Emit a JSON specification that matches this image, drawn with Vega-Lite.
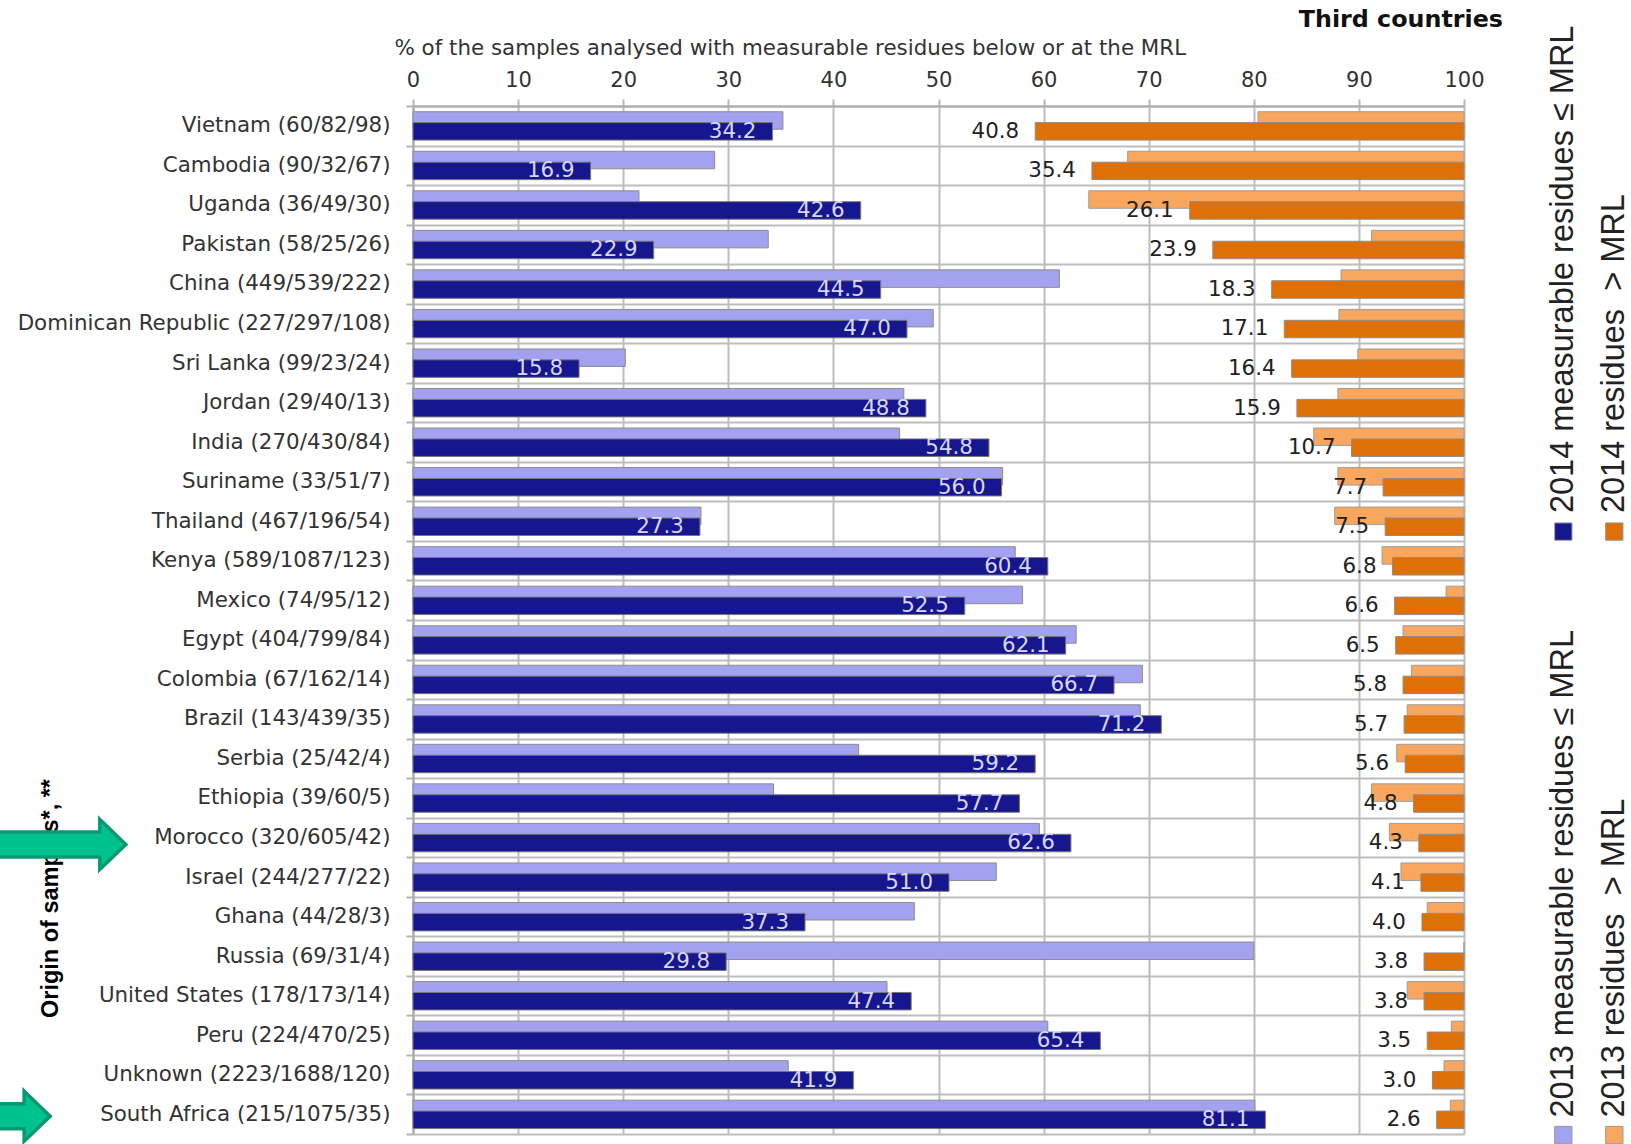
{"$schema":"https://vega.github.io/schema/vega-lite/v6.json","autosize":{"type":"none"},"padding":{"left":413,"top":106,"right":167,"bottom":10},"width":1051,"height":1028,"background":"white",
"config":{"view":{"stroke":null},"font":"DejaVu Sans"},
"title":{"text":"Third countries","anchor":"end","frame":"group","font":"DejaVu Sans","fontWeight":"bold","fontSize":23.8,"color":"#111","dx":39,"offset":-6},
"datasets":{"bars":[
{"country":"Vietnam (60/82/98)","year":2013,"below":35.2,"start":80.4,"above":19.6},{"country":"Vietnam (60/82/98)","year":2014,"below":34.2,"start":59.2,"above":40.8},
{"country":"Cambodia (90/32/67)","year":2013,"below":28.7,"start":68.0,"above":32.0},{"country":"Cambodia (90/32/67)","year":2014,"below":16.9,"start":64.6,"above":35.4},
{"country":"Uganda (36/49/30)","year":2013,"below":21.5,"start":64.3,"above":35.7},{"country":"Uganda (36/49/30)","year":2014,"below":42.6,"start":73.9,"above":26.1},
{"country":"Pakistan (58/25/26)","year":2013,"below":33.8,"start":91.2,"above":8.8},{"country":"Pakistan (58/25/26)","year":2014,"below":22.9,"start":76.1,"above":23.9},
{"country":"China (449/539/222)","year":2013,"below":61.5,"start":88.3,"above":11.7},{"country":"China (449/539/222)","year":2014,"below":44.5,"start":81.7,"above":18.3},
{"country":"Dominican Republic (227/297/108)","year":2013,"below":49.5,"start":88.1,"above":11.9},{"country":"Dominican Republic (227/297/108)","year":2014,"below":47.0,"start":82.9,"above":17.1},
{"country":"Sri Lanka (99/23/24)","year":2013,"below":20.2,"start":89.9,"above":10.1},{"country":"Sri Lanka (99/23/24)","year":2014,"below":15.8,"start":83.6,"above":16.4},
{"country":"Jordan (29/40/13)","year":2013,"below":46.7,"start":88.0,"above":12.0},{"country":"Jordan (29/40/13)","year":2014,"below":48.8,"start":84.1,"above":15.9},
{"country":"India (270/430/84)","year":2013,"below":46.3,"start":85.7,"above":14.3},{"country":"India (270/430/84)","year":2014,"below":54.8,"start":89.3,"above":10.7},
{"country":"Suriname (33/51/7)","year":2013,"below":56.1,"start":88.0,"above":12.0},{"country":"Suriname (33/51/7)","year":2014,"below":56.0,"start":92.3,"above":7.7},
{"country":"Thailand (467/196/54)","year":2013,"below":27.4,"start":87.7,"above":12.3},{"country":"Thailand (467/196/54)","year":2014,"below":27.3,"start":92.5,"above":7.5},
{"country":"Kenya (589/1087/123)","year":2013,"below":57.3,"start":92.2,"above":7.8},{"country":"Kenya (589/1087/123)","year":2014,"below":60.4,"start":93.2,"above":6.8},
{"country":"Mexico (74/95/12)","year":2013,"below":58.0,"start":98.3,"above":1.7},{"country":"Mexico (74/95/12)","year":2014,"below":52.5,"start":93.4,"above":6.6},
{"country":"Egypt (404/799/84)","year":2013,"below":63.1,"start":94.2,"above":5.8},{"country":"Egypt (404/799/84)","year":2014,"below":62.1,"start":93.5,"above":6.5},
{"country":"Colombia (67/162/14)","year":2013,"below":69.4,"start":95.0,"above":5.0},{"country":"Colombia (67/162/14)","year":2014,"below":66.7,"start":94.2,"above":5.8},
{"country":"Brazil (143/439/35)","year":2013,"below":69.2,"start":94.6,"above":5.4},{"country":"Brazil (143/439/35)","year":2014,"below":71.2,"start":94.3,"above":5.7},
{"country":"Serbia (25/42/4)","year":2013,"below":42.4,"start":93.6,"above":6.4},{"country":"Serbia (25/42/4)","year":2014,"below":59.2,"start":94.4,"above":5.6},
{"country":"Ethiopia (39/60/5)","year":2013,"below":34.3,"start":91.2,"above":8.8},{"country":"Ethiopia (39/60/5)","year":2014,"below":57.7,"start":95.2,"above":4.8},
{"country":"Morocco (320/605/42)","year":2013,"below":59.6,"start":92.9,"above":7.1},{"country":"Morocco (320/605/42)","year":2014,"below":62.6,"start":95.7,"above":4.3},
{"country":"Israel (244/277/22)","year":2013,"below":55.5,"start":94.0,"above":6.0},{"country":"Israel (244/277/22)","year":2014,"below":51.0,"start":95.9,"above":4.1},
{"country":"Ghana (44/28/3)","year":2013,"below":47.7,"start":96.5,"above":3.5},{"country":"Ghana (44/28/3)","year":2014,"below":37.3,"start":96.0,"above":4.0},
{"country":"Russia (69/31/4)","year":2013,"below":80.0,"start":100,"above":0},{"country":"Russia (69/31/4)","year":2014,"below":29.8,"start":96.2,"above":3.8},
{"country":"United States (178/173/14)","year":2013,"below":45.1,"start":94.6,"above":5.4},{"country":"United States (178/173/14)","year":2014,"below":47.4,"start":96.2,"above":3.8},
{"country":"Peru (224/470/25)","year":2013,"below":60.4,"start":98.8,"above":1.2},{"country":"Peru (224/470/25)","year":2014,"below":65.4,"start":96.5,"above":3.5},
{"country":"Unknown (2223/1688/120)","year":2013,"below":35.7,"start":98.1,"above":1.9},{"country":"Unknown (2223/1688/120)","year":2014,"below":41.9,"start":97.0,"above":3.0},
{"country":"South Africa (215/1075/35)","year":2013,"below":80.1,"start":98.7,"above":1.3},{"country":"South Africa (215/1075/35)","year":2014,"below":81.1,"start":97.4,"above":2.6}
],
"legend":[
{"label":"2014 measurable residues ≤ MRL","lx":109.45,"ty":0.604,"sy":0.586},
{"label":"2014 residues \u00a0> MRL","lx":114.3,"ty":0.604,"sy":0.586},
{"label":"2013 measurable residues ≤ MRL","lx":109.45,"ty":0.016,"sy":-0.001},
{"label":"2013 residues \u00a0> MRL","lx":114.3,"ty":0.016,"sy":-0.001}
]},
"layer":[
{"data":{"name":"bars"},
"encoding":{"y":{"field":"country","type":"nominal","scale":{"domain":["Vietnam (60/82/98)","Cambodia (90/32/67)","Uganda (36/49/30)","Pakistan (58/25/26)","China (449/539/222)","Dominican Republic (227/297/108)","Sri Lanka (99/23/24)","Jordan (29/40/13)","India (270/430/84)","Suriname (33/51/7)","Thailand (467/196/54)","Kenya (589/1087/123)","Mexico (74/95/12)","Egypt (404/799/84)","Colombia (67/162/14)","Brazil (143/439/35)","Serbia (25/42/4)","Ethiopia (39/60/5)","Morocco (320/605/42)","Israel (244/277/22)","Ghana (44/28/3)","Russia (69/31/4)","United States (178/173/14)","Peru (224/470/25)","Unknown (2223/1688/120)","South Africa (215/1075/35)"],"paddingInner":0,"paddingOuter":0},
"axis":{"title":"Origin of samples*, **","titleFont":"Liberation Sans","titleFontWeight":"bold","titleFontSize":23.5,"titleColor":"#000","titleX":-363,"titleY":792,"titleAngle":270,"titleAlign":"center","titleBaseline":"middle","labelFont":"DejaVu Sans","labelFontSize":21.4,"labelColor":"#333","labelPadding":16,"labelLimit":420,"grid":true,"gridColor":"#bdbdbd","gridWidth":2,"bandPosition":0,"tickBand":"extent","tickColor":"#b5b5b5","tickWidth":2,"tickSize":7,"domainColor":"#aaa","domainWidth":2}}},
"layer":[
{"transform":[{"filter":"datum.year===2013"}],"mark":{"type":"bar","size":17.5,"yOffset":-5.3,"color":"#a2a2f0","stroke":"#8d8d8d","strokeWidth":1},
"encoding":{"x":{"field":"below","type":"quantitative","scale":{"domain":[0,100],"nice":false},"axis":{"orient":"top","values":[0,10,20,30,40,50,60,70,80,90,100],"labelFlush":false,"title":"% of the samples analysed with measurable residues below or at the MRL","titleFont":"DejaVu Sans","titleFontWeight":"normal","titleFontSize":21.4,"titleColor":"#333","titleX":-19,"titleY":-58,"titleAlign":"left","titleBaseline":"middle","labelFont":"DejaVu Sans","labelFontSize":21,"labelColor":"#333","labelPadding":9,"grid":true,"gridColor":"#bdbdbd","gridWidth":2,"tickColor":"#b5b5b5","tickWidth":2,"tickSize":7,"domainColor":"#aaa","domainWidth":2}}}},
{"transform":[{"filter":"datum.year===2013"}],"mark":{"type":"bar","size":17.5,"yOffset":-5.3,"color":"#f9a75e","stroke":"#9d9d9d","strokeWidth":1},
"encoding":{"x":{"field":"start","type":"quantitative"},"x2":{"datum":100}}},
{"transform":[{"filter":"datum.year===2014"}],"mark":{"type":"bar","size":17.5,"yOffset":5.6,"color":"#16168f","stroke":"#777","strokeWidth":1},
"encoding":{"x":{"field":"below","type":"quantitative"}}},
{"transform":[{"filter":"datum.year===2014"}],"mark":{"type":"bar","size":17.5,"yOffset":5.6,"color":"#de7007","stroke":"#8d8d8d","strokeWidth":1},
"encoding":{"x":{"field":"start","type":"quantitative"},"x2":{"datum":100}}},
{"transform":[{"filter":"datum.year===2014"}],"mark":{"type":"text","align":"right","baseline":"middle","dx":-16,"yOffset":6,"fontSize":21.4,"color":"#d8d8fa"},
"encoding":{"x":{"field":"below","type":"quantitative"},"text":{"field":"below","type":"quantitative","format":".1f"}}},
{"transform":[{"filter":"datum.year===2014"}],"mark":{"type":"text","align":"right","baseline":"middle","dx":-16,"yOffset":6,"fontSize":21.4,"color":"#222"},
"encoding":{"x":{"field":"start","type":"quantitative"},"text":{"field":"above","type":"quantitative","format":".1f"}}},
{"data":{"values":[{"country":"Morocco (320/605/42)","ax":-29.8}]},"mark":{"type":"point","filled":true,"opacity":1,"shape":"M0.26,0L0,-0.25L0,-0.125L-2,-0.125L-2,0.125L0,0.125L0,0.25Z","size":40000,"color":"#00c28e","stroke":"#069a72","strokeWidth":3.5,"yOffset":7},
"encoding":{"x":{"field":"ax","type":"quantitative"}}},
{"data":{"values":[{"country":"South Africa (215/1075/35)","ax":-37.0}]},"mark":{"type":"point","filled":true,"opacity":1,"shape":"M0.26,0L0,-0.25L0,-0.125L-2,-0.125L-2,0.125L0,0.125L0,0.25Z","size":40000,"color":"#00c28e","stroke":"#069a72","strokeWidth":3.5,"yOffset":2},
"encoding":{"x":{"field":"ax","type":"quantitative"}}}
]},
{"data":{"name":"legend"},
"layer":[
{"mark":{"type":"text","angle":270,"align":"left","baseline":"middle","font":"Liberation Sans","fontSize":32.5,"color":"#222"},
"encoding":{"x":{"field":"lx","type":"quantitative"},"y":{"field":"ty","type":"quantitative","scale":{"domain":[0,1],"nice":false,"zero":false},"axis":null},"text":{"field":"label"}}},
{"mark":{"type":"square","filled":true,"opacity":1,"size":300,"stroke":"#999","strokeWidth":1},
"encoding":{"x":{"field":"lx","type":"quantitative"},"y":{"field":"sy","type":"quantitative","axis":null},
"color":{"field":"label","type":"nominal","legend":null,"scale":{"domain":["2014 measurable residues ≤ MRL","2014 residues \u00a0> MRL","2013 measurable residues ≤ MRL","2013 residues \u00a0> MRL"],"range":["#16168f","#de7007","#a2a2f0","#f9a75e"]}}}}
]}
],
"resolve":{"scale":{"y":"independent"}}}
